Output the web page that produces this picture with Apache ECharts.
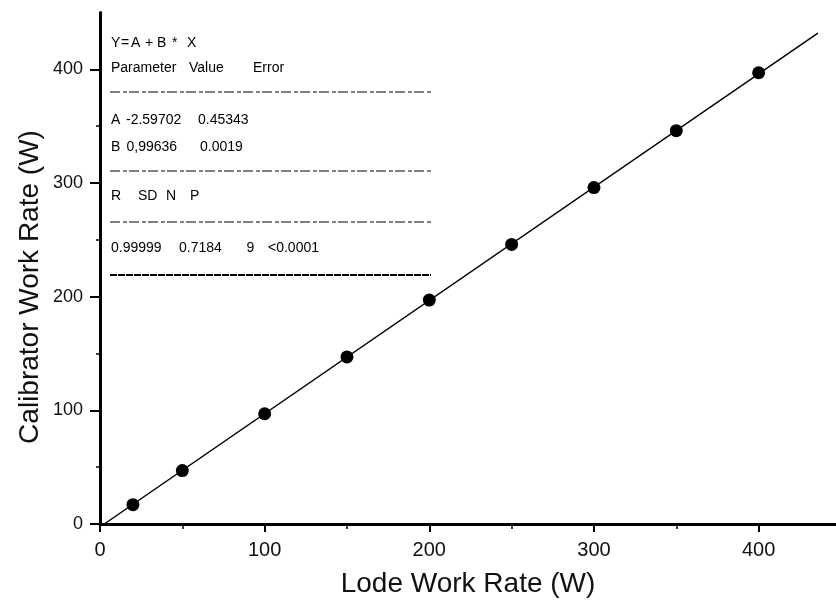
<!DOCTYPE html>
<html>
<head>
<meta charset="utf-8">
<script src="https://cdn.jsdelivr.net/npm/echarts@6/dist/echarts.min.js"></script>
<style>html,body{margin:0;padding:0;background:#fff}#c{width:836px;height:603px}</style>
</head>
<body>
<div id="c"></div>
<script>
// ---- data ----
const lodeRate = [20, 50, 100, 150, 200, 250, 300, 350, 400];
const calibratorRate = [17, 47, 97, 147, 197, 246, 296, 346, 397];
const fitX = [2.6, 436];
const fitY = [0, 431.8];
const xMajorTicks = [0, 100, 200, 300, 400];
const xMinorTicks = [50, 150, 250, 350];
const yMajorTicks = [0, 100, 200, 300, 400];
const yMinorTicks = [50, 150, 250, 350];
const xTitle = 'Lode Work Rate (W)';
const yTitle = 'Calibrator Work Rate (W)';
const statLines = [
  [['Y', 111], ['=', 121], ['A', 131], ['+', 145], ['B', 157], ['*', 172], ['X', 187]],
  [['Parameter', 111], ['Value', 189], ['Error', 253]],
  [['A', 111], ['-2.59702', 126], ['0.45343', 198]],
  [['B', 111], ['0,99636', 126.5], ['0.0019', 200]],
  [['R', 111], ['SD', 138], ['N', 166], ['P', 190]],
  [['0.99999', 111], ['0.7184', 179], ['9', 246.5], ['<0.0001', 268]]
];
const statLineY = [43, 68, 120, 147, 196, 248];
const ruleY = [92, 171, 222, 275];

const chart = echarts.init(document.getElementById('c'), null, {renderer: 'canvas'});
const font = 'Liberation Sans, Arial, sans-serif';

const graphics = [];
statLines.forEach((line, i) => {
  line.forEach(([t, x]) => {
    graphics.push({type: 'text', x: x, y: statLineY[i], style: {text: t, font: '14px ' + font, fill: '#000', textVerticalAlign: 'middle', textAlign: 'left'}});
  });
});
ruleY.forEach((y, i) => {
  const last = i === ruleY.length - 1;
  graphics.push({type: 'line', shape: {x1: 110, y1: y, x2: 431, y2: y},
    style: {stroke: '#000', lineWidth: last ? 2 : 1, lineDash: last ? [7, 1] : [10, 3, 4, 2]}});
});
graphics.push({type: 'text', x: 30, y: 287, rotation: Math.PI / 2,
  style: {text: yTitle, font: '28px ' + font, fill: '#111', textAlign: 'center', textVerticalAlign: 'middle'}});

const axisCommon = {
  min: 0,
  axisLine: {show: true, lineStyle: {color: '#000', width: 3}},
  splitLine: {show: false},
};

chart.setOption({
  animation: false,
  backgroundColor: '#fff',
  grid: {left: 100, right: 0, top: 12.5, bottom: 77.5, containLabel: false},
  xAxis: [
    Object.assign({}, axisCommon, {
      type: 'value', max: 447, position: 'bottom',
      name: xTitle, nameLocation: 'middle', nameGap: 46,
      nameTextStyle: {fontSize: 28, fontFamily: font, color: '#111'},
      axisTick: {show: true, length: 8, lineStyle: {color: '#000', width: 2}, customValues: xMajorTicks},
      axisLabel: {show: true, fontSize: 20, fontFamily: font, color: '#111', margin: 16, customValues: xMajorTicks}
    }),
    Object.assign({}, axisCommon, {
      type: 'value', max: 447, position: 'bottom',
      axisLine: {show: false},
      axisTick: {show: true, length: 5, lineStyle: {color: '#000', width: 1.5}, customValues: xMinorTicks},
      axisLabel: {show: false}
    })
  ],
  yAxis: [
    Object.assign({}, axisCommon, {
      type: 'value', max: 450, position: 'left',
      axisTick: {show: true, length: 10, lineStyle: {color: '#000', width: 2}, customValues: yMajorTicks},
      axisLabel: {show: true, fontSize: 18, fontFamily: font, color: '#111', margin: 17, customValues: yMajorTicks}
    }),
    Object.assign({}, axisCommon, {
      type: 'value', max: 450, position: 'left',
      axisLine: {show: false},
      axisTick: {show: true, length: 4, lineStyle: {color: '#000', width: 1.5}, customValues: yMinorTicks},
      axisLabel: {show: false}
    })
  ],
  graphic: graphics,
  series: [
    {
      type: 'line', xAxisIndex: 0, yAxisIndex: 0,
      data: fitX.map((x, i) => [x, fitY[i]]),
      showSymbol: false, symbol: 'none',
      lineStyle: {color: '#000', width: 1.5}, z: 2
    },
    {
      type: 'scatter', xAxisIndex: 0, yAxisIndex: 0,
      data: lodeRate.map((x, i) => [x, calibratorRate[i]]),
      symbol: 'circle', symbolSize: 13,
      itemStyle: {color: '#000', opacity: 1}, z: 3
    }
  ]
});
</script>
</body>
</html>
